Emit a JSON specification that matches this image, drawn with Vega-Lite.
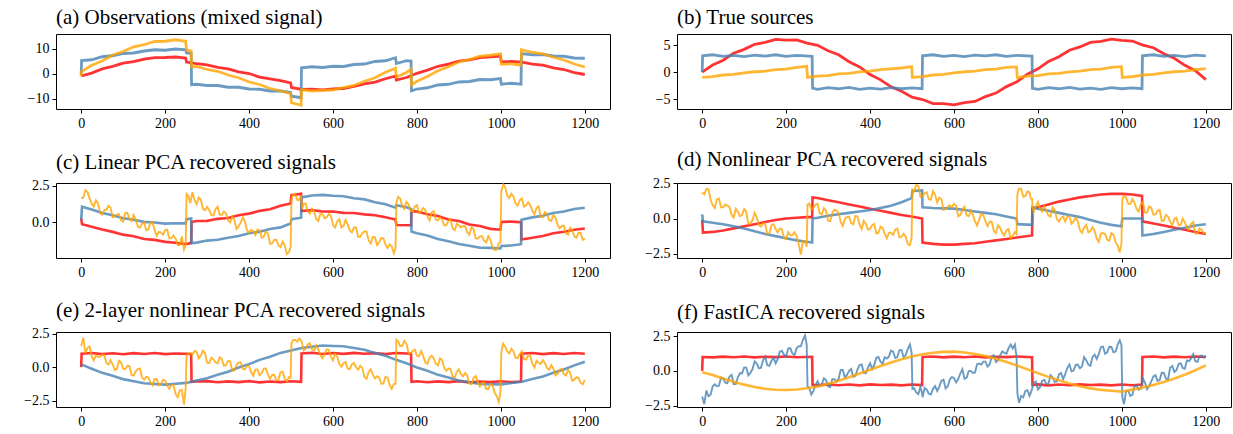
{
"$schema": "https://vega.github.io/schema/vega-lite/v6.json",
"autosize": {"type": "pad"},
"padding": {"left": 23, "top": 6, "right": 2, "bottom": 2},
"background": "white",
"columns": 2,
"spacing": {"row": 74, "column": 67},
"bounds": "flush",
"config": {
 "view": {"stroke": "black", "strokeWidth": 1},
 "axis": {"domain": false, "grid": false, "ticks": true, "tickColor": "black", "tickSize": 4, "tickWidth": 1, "labelFont": "Liberation Serif", "labelFontSize": 14, "labelColor": "black", "labelPadding": 3},
 "title": {"font": "Liberation Serif", "fontSize": 21, "fontWeight": "normal", "anchor": "start", "frame": "group", "color": "black", "offset": 6},
 "line": {"strokeWidth": 2, "opacity": 0.8, "clip": true}
},
"datasets": {
"a_r": [{"x":0,"y":-0.9},{"x":25,"y":0.27},{"x":50,"y":1.93},{"x":75,"y":2.94},{"x":100,"y":4.25},{"x":125,"y":4.83},{"x":150,"y":5.82},{"x":175,"y":6.49},{"x":200,"y":6.5},{"x":225,"y":6.69},{"x":249,"y":6.28},{"x":251,"y":4.67},{"x":275,"y":4.03},{"x":300,"y":3.55},{"x":325,"y":2.55},{"x":350,"y":1.93},{"x":375,"y":0.78},{"x":400,"y":0.1},{"x":425,"y":-1.34},{"x":450,"y":-2.06},{"x":475,"y":-2.72},{"x":499,"y":-3.62},{"x":501,"y":-5.48},{"x":525,"y":-6.26},{"x":550,"y":-6.13},{"x":575,"y":-6.41},{"x":600,"y":-6.05},{"x":625,"y":-5.9},{"x":650,"y":-5.05},{"x":675,"y":-4.02},{"x":700,"y":-3.31},{"x":725,"y":-2.01},{"x":749,"y":-0.88},{"x":751,"y":-2.52},{"x":775,"y":-1.5},{"x":800,"y":0.18},{"x":825,"y":1.44},{"x":850,"y":2.99},{"x":875,"y":3.82},{"x":900,"y":5.04},{"x":925,"y":5.59},{"x":950,"y":6.48},{"x":975,"y":6.71},{"x":999,"y":7.07},{"x":1001,"y":4.79},{"x":1025,"y":4.9},{"x":1050,"y":4.65},{"x":1075,"y":3.82},{"x":1100,"y":3.41},{"x":1125,"y":2.35},{"x":1150,"y":1.69},{"x":1175,"y":0.45},{"x":1200,"y":-0.3}],
"a_b": [{"x":0,"y":-0.5},{"x":1,"y":5.3},{"x":25,"y":5.6},{"x":50,"y":6.8},{"x":75,"y":7.2},{"x":100,"y":8.1},{"x":125,"y":8.3},{"x":150,"y":9.1},{"x":175,"y":9.6},{"x":200,"y":9.4},{"x":225,"y":9.9},{"x":249,"y":9.6},{"x":251,"y":8.3},{"x":262,"y":8.2},{"x":263,"y":-4.4},{"x":275,"y":-4.2},{"x":300,"y":-4.7},{"x":325,"y":-4.7},{"x":350,"y":-5.4},{"x":375,"y":-5.4},{"x":400,"y":-6.1},{"x":425,"y":-6.2},{"x":450,"y":-6.9},{"x":475,"y":-6.9},{"x":499,"y":-7.5},{"x":501,"y":-9.0},{"x":524,"y":-9.6},{"x":525,"y":2.4},{"x":550,"y":2.8},{"x":575,"y":2.5},{"x":600,"y":3.0},{"x":625,"y":2.9},{"x":650,"y":3.7},{"x":675,"y":3.9},{"x":700,"y":4.9},{"x":725,"y":5.2},{"x":749,"y":6.4},{"x":751,"y":4.1},{"x":775,"y":5.2},{"x":786,"y":5.1},{"x":787,"y":-6.8},{"x":800,"y":-6.1},{"x":825,"y":-5.6},{"x":850,"y":-4.5},{"x":875,"y":-4.2},{"x":900,"y":-3.3},{"x":925,"y":-3.1},{"x":950,"y":-2.3},{"x":975,"y":-2.4},{"x":999,"y":-1.9},{"x":1001,"y":-4.2},{"x":1025,"y":-3.8},{"x":1048,"y":-4.2},{"x":1049,"y":8.1},{"x":1075,"y":7.6},{"x":1100,"y":7.7},{"x":1125,"y":7.1},{"x":1150,"y":7.0},{"x":1175,"y":6.3},{"x":1200,"y":6.2}],
"a_o": [{"x":0,"y":-1.0},{"x":1,"y":0.9},{"x":25,"y":3.4},{"x":50,"y":5.1},{"x":75,"y":7.5},{"x":100,"y":8.9},{"x":125,"y":10.8},{"x":150,"y":11.6},{"x":175,"y":12.9},{"x":200,"y":13.0},{"x":225,"y":13.6},{"x":249,"y":13.0},{"x":251,"y":9.4},{"x":262,"y":9.1},{"x":263,"y":2.8},{"x":275,"y":2.9},{"x":300,"y":1.7},{"x":325,"y":1.0},{"x":350,"y":-0.5},{"x":375,"y":-1.6},{"x":400,"y":-3.3},{"x":425,"y":-4.3},{"x":450,"y":-5.9},{"x":475,"y":-6.8},{"x":499,"y":-8.0},{"x":501,"y":-11.6},{"x":524,"y":-12.6},{"x":525,"y":-6.3},{"x":550,"y":-6.9},{"x":575,"y":-6.6},{"x":600,"y":-6.5},{"x":625,"y":-5.5},{"x":650,"y":-4.7},{"x":675,"y":-3.0},{"x":700,"y":-1.6},{"x":725,"y":0.6},{"x":749,"y":2.2},{"x":751,"y":-1.3},{"x":775,"y":0.5},{"x":786,"y":1.8},{"x":787,"y":-4.4},{"x":800,"y":-3.0},{"x":825,"y":-1.1},{"x":850,"y":1.2},{"x":875,"y":2.8},{"x":900,"y":4.7},{"x":925,"y":5.7},{"x":950,"y":7.0},{"x":975,"y":7.4},{"x":999,"y":8.0},{"x":1001,"y":3.8},{"x":1025,"y":4.0},{"x":1048,"y":3.4},{"x":1049,"y":9.6},{"x":1075,"y":8.6},{"x":1100,"y":8.0},{"x":1125,"y":6.6},{"x":1150,"y":5.5},{"x":1175,"y":3.9},{"x":1200,"y":2.7}],
"b_r": [{"x":0,"y":0},{"x":25,"y":1.3},{"x":50,"y":2.2},{"x":75,"y":3.5},{"x":100,"y":4.2},{"x":125,"y":5.15},{"x":150,"y":5.5},{"x":175,"y":6.05},{"x":200,"y":5.9},{"x":225,"y":5.95},{"x":250,"y":5.35},{"x":275,"y":4.95},{"x":300,"y":3.95},{"x":325,"y":3.2},{"x":350,"y":1.9},{"x":375,"y":0.95},{"x":400,"y":-0.45},{"x":425,"y":-1.45},{"x":450,"y":-2.75},{"x":475,"y":-3.55},{"x":500,"y":-4.65},{"x":525,"y":-5.1},{"x":550,"y":-5.85},{"x":575,"y":-5.85},{"x":600,"y":-6.1},{"x":625,"y":-5.65},{"x":650,"y":-5.45},{"x":675,"y":-4.55},{"x":700,"y":-3.9},{"x":725,"y":-2.7},{"x":750,"y":-1.8},{"x":775,"y":-0.4},{"x":800,"y":0.6},{"x":825,"y":1.95},{"x":850,"y":2.85},{"x":875,"y":4.05},{"x":900,"y":4.65},{"x":925,"y":5.5},{"x":950,"y":5.7},{"x":975,"y":6.1},{"x":1000,"y":5.85},{"x":1025,"y":5.75},{"x":1050,"y":5.0},{"x":1075,"y":4.5},{"x":1100,"y":3.4},{"x":1125,"y":2.55},{"x":1150,"y":1.25},{"x":1175,"y":0.25},{"x":1200,"y":-1.4}],
"b_b": [{"x":0,"y":0},{"x":1,"y":3.0},{"x":25,"y":3.2},{"x":50,"y":2.9},{"x":75,"y":3.1},{"x":100,"y":2.85},{"x":125,"y":3.15},{"x":150,"y":2.95},{"x":175,"y":3.2},{"x":200,"y":2.9},{"x":225,"y":3.1},{"x":262,"y":2.9},{"x":263,"y":-3.0},{"x":275,"y":-3.2},{"x":300,"y":-2.9},{"x":325,"y":-3.1},{"x":350,"y":-2.85},{"x":375,"y":-3.2},{"x":400,"y":-3.0},{"x":425,"y":-3.15},{"x":450,"y":-2.9},{"x":475,"y":-3.1},{"x":500,"y":-2.95},{"x":524,"y":-3.1},{"x":525,"y":3.0},{"x":550,"y":3.2},{"x":575,"y":2.9},{"x":600,"y":3.1},{"x":625,"y":2.85},{"x":650,"y":3.15},{"x":675,"y":3.0},{"x":700,"y":3.2},{"x":725,"y":2.9},{"x":750,"y":3.1},{"x":786,"y":2.95},{"x":787,"y":-3.0},{"x":800,"y":-3.2},{"x":825,"y":-2.9},{"x":850,"y":-3.1},{"x":875,"y":-2.85},{"x":900,"y":-3.15},{"x":925,"y":-3.0},{"x":950,"y":-3.2},{"x":975,"y":-2.9},{"x":1000,"y":-3.1},{"x":1025,"y":-2.95},{"x":1048,"y":-3.1},{"x":1049,"y":3.0},{"x":1075,"y":3.2},{"x":1100,"y":2.9},{"x":1125,"y":3.1},{"x":1150,"y":2.85},{"x":1175,"y":3.15},{"x":1200,"y":3.0}],
"b_o": [{"x":0,"y":-1.0},{"x":25,"y":-0.85},{"x":50,"y":-0.55},{"x":75,"y":-0.45},{"x":100,"y":-0.15},{"x":125,"y":0.05},{"x":150,"y":0.15},{"x":175,"y":0.45},{"x":200,"y":0.55},{"x":225,"y":0.85},{"x":249,"y":1.05},{"x":251,"y":-1.0},{"x":275,"y":-0.75},{"x":300,"y":-0.65},{"x":325,"y":-0.35},{"x":350,"y":-0.25},{"x":375,"y":0.05},{"x":400,"y":0.15},{"x":425,"y":0.45},{"x":450,"y":0.6},{"x":475,"y":0.75},{"x":499,"y":1.0},{"x":501,"y":-1.0},{"x":525,"y":-0.85},{"x":550,"y":-0.55},{"x":575,"y":-0.45},{"x":600,"y":-0.15},{"x":625,"y":0.05},{"x":650,"y":0.15},{"x":675,"y":0.45},{"x":700,"y":0.55},{"x":725,"y":0.85},{"x":749,"y":0.95},{"x":751,"y":-1.05},{"x":775,"y":-0.75},{"x":800,"y":-0.65},{"x":825,"y":-0.35},{"x":850,"y":-0.25},{"x":875,"y":0.05},{"x":900,"y":0.15},{"x":925,"y":0.45},{"x":950,"y":0.55},{"x":975,"y":0.85},{"x":999,"y":1.0},{"x":1001,"y":-1.0},{"x":1025,"y":-0.85},{"x":1050,"y":-0.55},{"x":1075,"y":-0.45},{"x":1100,"y":-0.15},{"x":1125,"y":0.05},{"x":1150,"y":0.15},{"x":1175,"y":0.45},{"x":1200,"y":0.65}],
"c_r": [{"x":0,"y":0.25},{"x":2,"y":-0.15},{"x":25,"y":-0.33},{"x":50,"y":-0.52},{"x":75,"y":-0.68},{"x":100,"y":-0.87},{"x":125,"y":-0.98},{"x":150,"y":-1.17},{"x":175,"y":-1.23},{"x":200,"y":-1.37},{"x":225,"y":-1.43},{"x":249,"y":-1.52},{"x":262,"y":-1.45},{"x":263,"y":0.0},{"x":275,"y":0.07},{"x":300,"y":0.08},{"x":325,"y":0.22},{"x":350,"y":0.28},{"x":375,"y":0.47},{"x":400,"y":0.58},{"x":425,"y":0.77},{"x":450,"y":0.88},{"x":475,"y":1.12},{"x":499,"y":1.28},{"x":501,"y":1.85},{"x":524,"y":1.95},{"x":525,"y":0.75},{"x":550,"y":0.82},{"x":575,"y":0.73},{"x":600,"y":0.72},{"x":625,"y":0.63},{"x":650,"y":0.62},{"x":675,"y":0.53},{"x":700,"y":0.47},{"x":725,"y":0.33},{"x":749,"y":0.17},{"x":751,"y":-0.2},{"x":786,"y":-0.22},{"x":787,"y":0.75},{"x":800,"y":0.72},{"x":825,"y":0.53},{"x":850,"y":0.42},{"x":875,"y":0.18},{"x":900,"y":0.07},{"x":925,"y":-0.17},{"x":950,"y":-0.28},{"x":975,"y":-0.47},{"x":999,"y":-0.53},{"x":1001,"y":0.0},{"x":1025,"y":0.03},{"x":1048,"y":-0.02},{"x":1049,"y":-1.2},{"x":1075,"y":-1.08},{"x":1100,"y":-0.97},{"x":1125,"y":-0.78},{"x":1150,"y":-0.67},{"x":1175,"y":-0.53},{"x":1200,"y":-0.45}],
"c_b": [{"x":0,"y":0.15},{"x":2,"y":1.05},{"x":25,"y":0.86},{"x":50,"y":0.62},{"x":75,"y":0.47},{"x":100,"y":0.26},{"x":125,"y":0.16},{"x":150,"y":0.01},{"x":175,"y":-0.03},{"x":200,"y":-0.11},{"x":225,"y":-0.08},{"x":249,"y":-0.09},{"x":251,"y":0.2},{"x":262,"y":0.24},{"x":263,"y":-1.45},{"x":275,"y":-1.42},{"x":300,"y":-1.28},{"x":325,"y":-1.22},{"x":350,"y":-1.08},{"x":375,"y":-0.97},{"x":400,"y":-0.78},{"x":425,"y":-0.67},{"x":450,"y":-0.48},{"x":475,"y":-0.37},{"x":499,"y":-0.1},{"x":501,"y":0.2},{"x":524,"y":0.3},{"x":525,"y":1.7},{"x":550,"y":1.83},{"x":575,"y":1.87},{"x":600,"y":1.81},{"x":625,"y":1.78},{"x":650,"y":1.64},{"x":675,"y":1.56},{"x":700,"y":1.36},{"x":725,"y":1.22},{"x":749,"y":0.99},{"x":751,"y":1.15},{"x":775,"y":1.02},{"x":786,"y":0.9},{"x":787,"y":-0.65},{"x":800,"y":-0.77},{"x":825,"y":-0.93},{"x":850,"y":-1.17},{"x":875,"y":-1.33},{"x":900,"y":-1.52},{"x":925,"y":-1.63},{"x":950,"y":-1.77},{"x":975,"y":-1.78},{"x":999,"y":-1.82},{"x":1001,"y":-1.65},{"x":1025,"y":-1.62},{"x":1048,"y":-1.53},{"x":1049,"y":0.15},{"x":1075,"y":0.32},{"x":1100,"y":0.43},{"x":1125,"y":0.62},{"x":1150,"y":0.73},{"x":1175,"y":0.9},{"x":1200,"y":0.98}],
"c_o": [{"x":0,"y":1.64},{"x":10,"y":2.2},{"x":20,"y":1.63},{"x":30,"y":1.06},{"x":40,"y":1.3},{"x":50,"y":0.52},{"x":60,"y":0.85},{"x":70,"y":0.99},{"x":80,"y":0.39},{"x":90,"y":0.54},{"x":100,"y":0.03},{"x":110,"y":0.63},{"x":120,"y":0.06},{"x":130,"y":0.17},{"x":140,"y":-0.4},{"x":150,"y":-0.02},{"x":160,"y":-0.5},{"x":170,"y":-0.03},{"x":180,"y":-0.96},{"x":190,"y":-0.71},{"x":200,"y":-0.56},{"x":210,"y":-1.13},{"x":220,"y":-0.93},{"x":230,"y":-1.59},{"x":240,"y":-0.99},{"x":245,"y":-1.9},{"x":249,"y":-1.6},{"x":251,"y":1.93},{"x":260,"y":1.3},{"x":265,"y":2.05},{"x":270,"y":1.51},{"x":280,"y":1.69},{"x":290,"y":0.91},{"x":300,"y":1.04},{"x":310,"y":0.48},{"x":320,"y":0.88},{"x":330,"y":0.5},{"x":340,"y":0.73},{"x":350,"y":0.13},{"x":360,"y":0.39},{"x":370,"y":-0.48},{"x":380,"y":-0.04},{"x":390,"y":0.04},{"x":400,"y":-0.73},{"x":410,"y":-0.61},{"x":420,"y":-0.53},{"x":430,"y":-1.08},{"x":440,"y":-0.64},{"x":450,"y":-1.51},{"x":460,"y":-1.24},{"x":470,"y":-1.62},{"x":480,"y":-1.35},{"x":490,"y":-2.2},{"x":499,"y":-1.72},{"x":501,"y":1.6},{"x":510,"y":1.95},{"x":518,"y":1.5},{"x":524,"y":1.75},{"x":526,"y":0.9},{"x":530,"y":1.26},{"x":540,"y":0.72},{"x":550,"y":0.92},{"x":560,"y":0.2},{"x":570,"y":0.58},{"x":580,"y":0.26},{"x":590,"y":0.55},{"x":600,"y":-0.21},{"x":610,"y":0.03},{"x":620,"y":-0.37},{"x":630,"y":0.14},{"x":640,"y":-0.58},{"x":650,"y":-0.38},{"x":660,"y":-1.01},{"x":670,"y":-0.76},{"x":680,"y":-0.67},{"x":690,"y":-1.47},{"x":700,"y":-1.05},{"x":710,"y":-1.4},{"x":720,"y":-1.12},{"x":730,"y":-1.79},{"x":740,"y":-1.69},{"x":745,"y":-2.15},{"x":749,"y":-1.8},{"x":751,"y":1.32},{"x":760,"y":1.62},{"x":770,"y":0.9},{"x":780,"y":1.23},{"x":790,"y":0.74},{"x":800,"y":1.16},{"x":810,"y":0.72},{"x":820,"y":0.82},{"x":830,"y":0.11},{"x":840,"y":0.75},{"x":850,"y":0.13},{"x":860,"y":0.19},{"x":870,"y":-0.22},{"x":880,"y":0.21},{"x":890,"y":-0.56},{"x":900,"y":-0.22},{"x":910,"y":-0.27},{"x":920,"y":-0.7},{"x":930,"y":-0.34},{"x":940,"y":-1.13},{"x":950,"y":-0.99},{"x":960,"y":-1.29},{"x":970,"y":-0.97},{"x":980,"y":-1.72},{"x":990,"y":-1.9},{"x":999,"y":-1.42},{"x":1001,"y":2.1},{"x":1006,"y":2.6},{"x":1010,"y":2.41},{"x":1020,"y":1.66},{"x":1030,"y":1.75},{"x":1040,"y":1.13},{"x":1050,"y":1.63},{"x":1060,"y":1.15},{"x":1070,"y":1.16},{"x":1080,"y":0.54},{"x":1090,"y":1.08},{"x":1100,"y":0.33},{"x":1110,"y":0.57},{"x":1120,"y":0.08},{"x":1130,"y":0.32},{"x":1140,"y":-0.44},{"x":1150,"y":-0.25},{"x":1160,"y":-0.87},{"x":1170,"y":-0.55},{"x":1180,"y":-1.08},{"x":1190,"y":-0.75},{"x":1200,"y":-1.15},
{"x":5,"y":1.68},{"x":15,"y":2.08},{"x":25,"y":1.27},{"x":35,"y":1.5},{"x":45,"y":0.63},{"x":55,"y":0.81},{"x":65,"y":1.12},{"x":75,"y":0.33},{"x":85,"y":0.51},{"x":95,"y":0.13},{"x":105,"y":0.61},{"x":115,"y":0.23},{"x":125,"y":0.48},{"x":135,"y":-0.32},{"x":145,"y":-0.13},{"x":155,"y":-0.58},{"x":165,"y":-0.03},{"x":175,"y":-0.54},{"x":185,"y":-0.68},{"x":195,"y":-0.88},{"x":205,"y":-0.53},{"x":215,"y":-1.11},{"x":225,"y":-1.14},{"x":235,"y":-1.57},{"x":255,"y":1.82},{"x":275,"y":1.24},{"x":285,"y":1.54},{"x":295,"y":0.82},{"x":305,"y":0.84},{"x":315,"y":0.44},{"x":325,"y":1.05},{"x":335,"y":0.5},{"x":345,"y":0.59},{"x":355,"y":-0.02},{"x":365,"y":0.15},{"x":375,"y":-0.3},{"x":385,"y":0.32},{"x":395,"y":-0.55},{"x":405,"y":-0.55},{"x":415,"y":-0.89},{"x":425,"y":-0.57},{"x":435,"y":-1.02},{"x":445,"y":-0.8},{"x":455,"y":-1.46},{"x":465,"y":-1.23},{"x":475,"y":-1.73},{"x":485,"y":-1.62},{"x":495,"y":-2.08},{"x":505,"y":1.9},{"x":514,"y":1.53},{"x":535,"y":1.27},{"x":545,"y":0.58},{"x":555,"y":0.76},{"x":565,"y":0.07},{"x":575,"y":0.54},{"x":585,"y":0.33},{"x":595,"y":0.41},{"x":605,"y":-0.37},{"x":615,"y":0.19},{"x":625,"y":-0.28},{"x":635,"y":-0.18},{"x":645,"y":-0.72},{"x":655,"y":-0.38},{"x":665,"y":-1.01},{"x":675,"y":-0.64},{"x":685,"y":-1.27},{"x":695,"y":-1.02},{"x":705,"y":-1.59},{"x":715,"y":-1.1},{"x":725,"y":-1.54},{"x":735,"y":-1.54},{"x":755,"y":1.75},{"x":765,"y":1.1},{"x":775,"y":1.39},{"x":785,"y":0.75},{"x":795,"y":1.07},{"x":805,"y":0.62},{"x":815,"y":0.97},{"x":825,"y":0.39},{"x":835,"y":0.67},{"x":845,"y":0.16},{"x":855,"y":0.32},{"x":865,"y":-0.22},{"x":875,"y":0.08},{"x":885,"y":-0.42},{"x":895,"y":-0.11},{"x":905,"y":-0.37},{"x":915,"y":-0.29},{"x":925,"y":-0.88},{"x":935,"y":-0.5},{"x":945,"y":-1.14},{"x":955,"y":-0.98},{"x":965,"y":-1.41},{"x":975,"y":-1.23},{"x":985,"y":-1.93},{"x":995,"y":-1.46},{"x":1015,"y":1.84},{"x":1025,"y":1.95},{"x":1035,"y":1.28},{"x":1045,"y":1.5},{"x":1055,"y":1.07},{"x":1065,"y":1.36},{"x":1075,"y":0.77},{"x":1085,"y":0.97},{"x":1095,"y":0.35},{"x":1105,"y":0.69},{"x":1115,"y":0.13},{"x":1125,"y":0.48},{"x":1135,"y":-0.18},{"x":1145,"y":-0.27},{"x":1155,"y":-0.8},{"x":1165,"y":-0.39},{"x":1175,"y":-0.98},{"x":1185,"y":-0.72},{"x":1195,"y":-1.23}],
"d_r": [{"x":0,"y":-0.1},{"x":2,"y":-1.0},{"x":25,"y":-0.95},{"x":50,"y":-0.85},{"x":75,"y":-0.7},{"x":100,"y":-0.55},{"x":125,"y":-0.4},{"x":150,"y":-0.25},{"x":175,"y":-0.1},{"x":200,"y":0.0},{"x":225,"y":0.05},{"x":249,"y":0.1},{"x":262,"y":0.1},{"x":263,"y":1.5},{"x":275,"y":1.45},{"x":300,"y":1.3},{"x":325,"y":1.15},{"x":350,"y":1.0},{"x":375,"y":0.85},{"x":400,"y":0.7},{"x":425,"y":0.55},{"x":450,"y":0.4},{"x":475,"y":0.25},{"x":499,"y":0.15},{"x":524,"y":0.0},{"x":525,"y":-1.7},{"x":550,"y":-1.8},{"x":575,"y":-1.85},{"x":600,"y":-1.85},{"x":625,"y":-1.8},{"x":650,"y":-1.75},{"x":675,"y":-1.65},{"x":700,"y":-1.55},{"x":725,"y":-1.45},{"x":750,"y":-1.35},{"x":786,"y":-1.2},{"x":787,"y":0.7},{"x":800,"y":0.8},{"x":825,"y":1.0},{"x":850,"y":1.2},{"x":875,"y":1.35},{"x":900,"y":1.5},{"x":925,"y":1.6},{"x":950,"y":1.7},{"x":975,"y":1.75},{"x":1000,"y":1.75},{"x":1025,"y":1.7},{"x":1048,"y":1.6},{"x":1049,"y":-0.2},{"x":1075,"y":-0.35},{"x":1100,"y":-0.5},{"x":1125,"y":-0.65},{"x":1150,"y":-0.8},{"x":1175,"y":-0.95},{"x":1200,"y":-1.1}],
"d_b": [{"x":0,"y":0.3},{"x":2,"y":-0.2},{"x":25,"y":-0.3},{"x":50,"y":-0.4},{"x":75,"y":-0.55},{"x":100,"y":-0.7},{"x":125,"y":-0.9},{"x":150,"y":-1.1},{"x":175,"y":-1.25},{"x":200,"y":-1.4},{"x":225,"y":-1.55},{"x":249,"y":-1.65},{"x":262,"y":-1.7},{"x":263,"y":0.0},{"x":275,"y":0.05},{"x":300,"y":0.2},{"x":325,"y":0.3},{"x":350,"y":0.4},{"x":375,"y":0.5},{"x":400,"y":0.6},{"x":425,"y":0.75},{"x":450,"y":0.9},{"x":475,"y":1.15},{"x":499,"y":1.45},{"x":501,"y":1.95},{"x":524,"y":2.0},{"x":525,"y":0.8},{"x":550,"y":0.75},{"x":575,"y":0.72},{"x":600,"y":0.7},{"x":625,"y":0.6},{"x":650,"y":0.5},{"x":675,"y":0.4},{"x":700,"y":0.3},{"x":725,"y":0.15},{"x":749,"y":0.0},{"x":751,"y":-0.4},{"x":786,"y":-0.45},{"x":787,"y":0.8},{"x":800,"y":0.7},{"x":825,"y":0.55},{"x":850,"y":0.4},{"x":875,"y":0.25},{"x":900,"y":0.1},{"x":925,"y":-0.1},{"x":950,"y":-0.3},{"x":975,"y":-0.45},{"x":999,"y":-0.55},{"x":1001,"y":0.0},{"x":1025,"y":0.0},{"x":1048,"y":0.0},{"x":1049,"y":-1.2},{"x":1075,"y":-1.1},{"x":1100,"y":-0.95},{"x":1125,"y":-0.8},{"x":1150,"y":-0.65},{"x":1175,"y":-0.5},{"x":1200,"y":-0.4}],
"d_o": [{"x":0,"y":1.85},{"x":10,"y":2.1},{"x":20,"y":1.34},{"x":30,"y":0.75},{"x":40,"y":1.42},{"x":50,"y":0.79},{"x":60,"y":0.91},{"x":70,"y":0.27},{"x":80,"y":0.69},{"x":90,"y":0.16},{"x":100,"y":0.68},{"x":110,"y":-0.36},{"x":120,"y":-0.09},{"x":130,"y":0.08},{"x":140,"y":-0.56},{"x":150,"y":-0.34},{"x":160,"y":-1.07},{"x":170,"y":-0.4},{"x":180,"y":-0.99},{"x":190,"y":-0.77},{"x":200,"y":-1.45},{"x":210,"y":-1.18},{"x":220,"y":-0.97},{"x":230,"y":-1.8},{"x":235,"y":-2.55},{"x":240,"y":-1.63},{"x":249,"y":-2.0},{"x":251,"y":1.0},{"x":260,"y":0.67},{"x":270,"y":0.97},{"x":280,"y":0.38},{"x":290,"y":0.74},{"x":300,"y":-0.15},{"x":310,"y":0.4},{"x":320,"y":0.56},{"x":330,"y":-0.23},{"x":340,"y":-0.03},{"x":350,"y":0.13},{"x":360,"y":-0.41},{"x":370,"y":0.15},{"x":380,"y":-0.75},{"x":390,"y":-0.39},{"x":400,"y":-0.73},{"x":410,"y":-0.38},{"x":420,"y":-1.02},{"x":430,"y":-0.66},{"x":440,"y":-1.4},{"x":450,"y":-1.0},{"x":460,"y":-0.79},{"x":470,"y":-1.33},{"x":480,"y":-1.08},{"x":490,"y":-1.82},{"x":499,"y":-1.35},{"x":501,"y":2.05},{"x":510,"y":2.38},{"x":520,"y":1.54},{"x":530,"y":1.8},{"x":540,"y":1.37},{"x":550,"y":1.93},{"x":560,"y":1.14},{"x":570,"y":1.36},{"x":580,"y":0.67},{"x":590,"y":0.93},{"x":600,"y":1.04},{"x":610,"y":0.16},{"x":620,"y":0.62},{"x":630,"y":0.23},{"x":640,"y":0.55},{"x":650,"y":-0.19},{"x":660,"y":-0.08},{"x":670,"y":0.24},{"x":680,"y":-0.55},{"x":690,"y":-0.24},{"x":700,"y":-1.02},{"x":710,"y":-0.66},{"x":720,"y":-1.2},{"x":730,"y":-0.74},{"x":740,"y":-1.22},{"x":749,"y":-1.1},{"x":751,"y":1.75},{"x":760,"y":2.1},{"x":770,"y":1.6},{"x":780,"y":1.85},{"x":786,"y":1.4},{"x":787,"y":0.9},{"x":790,"y":0.45},{"x":800,"y":1.17},{"x":810,"y":0.49},{"x":820,"y":0.56},{"x":830,"y":0.13},{"x":840,"y":0.61},{"x":850,"y":-0.22},{"x":860,"y":0.15},{"x":870,"y":0.12},{"x":880,"y":-0.36},{"x":890,"y":0.06},{"x":900,"y":-0.82},{"x":910,"y":-0.65},{"x":920,"y":-0.98},{"x":930,"y":-0.61},{"x":940,"y":-1.43},{"x":950,"y":-1.06},{"x":960,"y":-1.09},{"x":970,"y":-1.57},{"x":980,"y":-1.15},{"x":990,"y":-1.93},{"x":995,"y":-2.4},{"x":999,"y":-1.75},{"x":1001,"y":1.4},{"x":1010,"y":1.5},{"x":1020,"y":1.03},{"x":1030,"y":1.11},{"x":1040,"y":0.5},{"x":1050,"y":1.18},{"x":1060,"y":0.42},{"x":1070,"y":0.75},{"x":1080,"y":0.29},{"x":1090,"y":0.62},{"x":1100,"y":-0.15},{"x":1110,"y":0.14},{"x":1120,"y":-0.48},{"x":1130,"y":0.06},{"x":1140,"y":-0.46},{"x":1150,"y":-0.27},{"x":1160,"y":-0.79},{"x":1170,"y":-0.25},{"x":1180,"y":-1.07},{"x":1190,"y":-0.79},{"x":1200,"y":-1.0},
{"x":5,"y":1.71},{"x":15,"y":2.08},{"x":25,"y":0.96},{"x":35,"y":1.36},{"x":45,"y":0.79},{"x":55,"y":0.99},{"x":65,"y":0.82},{"x":75,"y":0.07},{"x":85,"y":0.48},{"x":95,"y":0.24},{"x":105,"y":0.48},{"x":115,"y":-0.37},{"x":125,"y":0.4},{"x":135,"y":-0.47},{"x":145,"y":-0.36},{"x":155,"y":-1.07},{"x":165,"y":-0.47},{"x":175,"y":-0.75},{"x":185,"y":-0.7},{"x":195,"y":-1.38},{"x":205,"y":-0.96},{"x":215,"y":-1.17},{"x":225,"y":-1.25},{"x":245,"y":-1.62},{"x":255,"y":1.07},{"x":265,"y":0.77},{"x":275,"y":1.04},{"x":285,"y":0.29},{"x":295,"y":0.57},{"x":305,"y":-0.19},{"x":315,"y":0.62},{"x":325,"y":0.4},{"x":335,"y":-0.54},{"x":345,"y":0.1},{"x":355,"y":-0.32},{"x":365,"y":0.19},{"x":375,"y":-0.44},{"x":385,"y":-0.16},{"x":395,"y":-0.79},{"x":405,"y":-0.47},{"x":415,"y":-1.06},{"x":425,"y":-0.57},{"x":435,"y":-1.08},{"x":445,"y":-1.02},{"x":455,"y":-1.17},{"x":465,"y":-0.7},{"x":475,"y":-1.3},{"x":485,"y":-1.31},{"x":495,"y":-1.89},{"x":505,"y":1.95},{"x":515,"y":2.32},{"x":525,"y":1.58},{"x":535,"y":1.86},{"x":545,"y":1.33},{"x":555,"y":1.68},{"x":565,"y":1.48},{"x":575,"y":0.61},{"x":585,"y":0.85},{"x":595,"y":0.81},{"x":605,"y":0.92},{"x":615,"y":0.25},{"x":625,"y":0.84},{"x":635,"y":0.16},{"x":645,"y":0.27},{"x":655,"y":-0.5},{"x":665,"y":0.35},{"x":675,"y":-0.21},{"x":685,"y":-0.22},{"x":695,"y":-0.9},{"x":705,"y":-0.48},{"x":715,"y":-1.02},{"x":725,"y":-0.83},{"x":735,"y":-1.39},{"x":745,"y":-0.96},{"x":755,"y":2.13},{"x":765,"y":1.55},{"x":775,"y":1.93},{"x":783,"y":1.42},{"x":795,"y":0.86},{"x":805,"y":0.65},{"x":815,"y":0.85},{"x":825,"y":0.21},{"x":835,"y":0.78},{"x":845,"y":-0.03},{"x":855,"y":0.05},{"x":865,"y":-0.22},{"x":875,"y":0.15},{"x":885,"y":-0.2},{"x":895,"y":-0.2},{"x":905,"y":-1.01},{"x":915,"y":-0.46},{"x":925,"y":-0.89},{"x":935,"y":-0.88},{"x":945,"y":-1.66},{"x":955,"y":-1.03},{"x":965,"y":-1.51},{"x":975,"y":-1.04},{"x":985,"y":-1.68},{"x":1005,"y":1.6},{"x":1015,"y":1.04},{"x":1025,"y":1.39},{"x":1035,"y":0.67},{"x":1045,"y":1.02},{"x":1055,"y":0.44},{"x":1065,"y":0.86},{"x":1075,"y":0.29},{"x":1085,"y":0.55},{"x":1095,"y":-0.17},{"x":1105,"y":0.26},{"x":1115,"y":-0.22},{"x":1125,"y":-0.03},{"x":1135,"y":-0.47},{"x":1145,"y":-0.01},{"x":1155,"y":-0.62},{"x":1165,"y":-0.38},{"x":1175,"y":-1.07},{"x":1185,"y":-0.7},{"x":1195,"y":-1.04}],
"e_r": [{"x":0,"y":0.0},{"x":1,"y":1.0},{"x":25,"y":1.05},{"x":50,"y":0.97},{"x":75,"y":1.03},{"x":100,"y":0.96},{"x":125,"y":1.04},{"x":150,"y":0.98},{"x":175,"y":1.05},{"x":200,"y":0.97},{"x":225,"y":1.02},{"x":262,"y":0.98},{"x":263,"y":-1.1},{"x":275,"y":-1.08},{"x":300,"y":-1.05},{"x":325,"y":-1.13},{"x":350,"y":-1.07},{"x":375,"y":-1.12},{"x":400,"y":-1.05},{"x":425,"y":-1.14},{"x":450,"y":-1.08},{"x":475,"y":-1.12},{"x":500,"y":-1.06},{"x":524,"y":-1.1},{"x":525,"y":1.02},{"x":550,"y":1.07},{"x":575,"y":0.98},{"x":600,"y":1.05},{"x":625,"y":0.99},{"x":650,"y":1.06},{"x":675,"y":1.0},{"x":700,"y":1.04},{"x":725,"y":0.97},{"x":750,"y":1.05},{"x":786,"y":1.0},{"x":787,"y":-1.1},{"x":800,"y":-1.06},{"x":825,"y":-1.13},{"x":850,"y":-1.07},{"x":875,"y":-1.12},{"x":900,"y":-1.05},{"x":925,"y":-1.14},{"x":950,"y":-1.08},{"x":975,"y":-1.12},{"x":1000,"y":-1.06},{"x":1025,"y":-1.12},{"x":1048,"y":-1.08},{"x":1049,"y":1.0},{"x":1075,"y":1.05},{"x":1100,"y":0.97},{"x":1125,"y":1.04},{"x":1150,"y":0.98},{"x":1175,"y":1.05},{"x":1200,"y":1.0}],
"e_b": [{"x":0,"y":0.2},{"x":25,"y":-0.12},{"x":50,"y":-0.43},{"x":75,"y":-0.65},{"x":100,"y":-0.9},{"x":125,"y":-1.05},{"x":150,"y":-1.21},{"x":175,"y":-1.26},{"x":200,"y":-1.31},{"x":225,"y":-1.24},{"x":250,"y":-1.18},{"x":275,"y":-1.0},{"x":300,"y":-0.84},{"x":325,"y":-0.58},{"x":350,"y":-0.35},{"x":375,"y":-0.03},{"x":400,"y":0.22},{"x":425,"y":0.54},{"x":450,"y":0.78},{"x":475,"y":1.06},{"x":500,"y":1.24},{"x":525,"y":1.43},{"x":550,"y":1.52},{"x":575,"y":1.61},{"x":600,"y":1.58},{"x":625,"y":1.56},{"x":650,"y":1.42},{"x":675,"y":1.29},{"x":700,"y":1.05},{"x":725,"y":0.84},{"x":750,"y":0.54},{"x":775,"y":0.29},{"x":800,"y":-0.03},{"x":825,"y":-0.28},{"x":850,"y":-0.58},{"x":875,"y":-0.78},{"x":900,"y":-1.01},{"x":925,"y":-1.13},{"x":950,"y":-1.26},{"x":975,"y":-1.28},{"x":1000,"y":-1.29},{"x":1025,"y":-1.19},{"x":1050,"y":-1.1},{"x":1075,"y":-0.89},{"x":1100,"y":-0.71},{"x":1125,"y":-0.43},{"x":1150,"y":-0.18},{"x":1175,"y":0.13},{"x":1200,"y":0.4}],
"e_o": [{"x":0,"y":1.55},{"x":5,"y":2.2},{"x":10,"y":1.02},{"x":20,"y":1.54},{"x":30,"y":0.5},{"x":40,"y":0.77},{"x":50,"y":0.94},{"x":60,"y":0.31},{"x":70,"y":0.52},{"x":80,"y":-0.21},{"x":90,"y":0.46},{"x":100,"y":-0.12},{"x":110,"y":0.09},{"x":120,"y":-0.59},{"x":130,"y":-0.32},{"x":140,"y":-0.11},{"x":150,"y":-0.94},{"x":160,"y":-0.77},{"x":170,"y":-1.35},{"x":180,"y":-0.89},{"x":190,"y":-1.27},{"x":200,"y":-1.0},{"x":210,"y":-1.63},{"x":220,"y":-1.32},{"x":230,"y":-2.25},{"x":240,"y":-1.73},{"x":245,"y":-2.8},{"x":249,"y":-1.6},{"x":251,"y":0.8},{"x":260,"y":1.02},{"x":270,"y":1.19},{"x":280,"y":0.65},{"x":290,"y":1.22},{"x":300,"y":0.33},{"x":310,"y":0.7},{"x":320,"y":0.36},{"x":330,"y":0.73},{"x":340,"y":0.1},{"x":350,"y":0.46},{"x":360,"y":-0.27},{"x":370,"y":0.14},{"x":380,"y":0.36},{"x":390,"y":-0.18},{"x":400,"y":0.09},{"x":410,"y":-0.65},{"x":420,"y":-0.18},{"x":430,"y":-0.47},{"x":440,"y":-0.1},{"x":450,"y":-0.88},{"x":460,"y":-0.57},{"x":470,"y":-0.95},{"x":480,"y":-0.34},{"x":490,"y":-1.07},{"x":499,"y":-0.8},{"x":501,"y":1.75},{"x":510,"y":2.02},{"x":520,"y":2.13},{"x":530,"y":1.24},{"x":540,"y":1.7},{"x":550,"y":1.31},{"x":560,"y":1.62},{"x":570,"y":0.87},{"x":580,"y":0.98},{"x":590,"y":1.29},{"x":600,"y":0.5},{"x":610,"y":0.81},{"x":620,"y":0.02},{"x":630,"y":0.38},{"x":640,"y":-0.16},{"x":650,"y":0.3},{"x":660,"y":-0.19},{"x":670,"y":-0.08},{"x":680,"y":-0.87},{"x":690,"y":-0.16},{"x":700,"y":-0.85},{"x":710,"y":-0.79},{"x":720,"y":-1.23},{"x":730,"y":-0.78},{"x":740,"y":-1.62},{"x":749,"y":-1.25},{"x":751,"y":2.05},{"x":760,"y":1.56},{"x":770,"y":1.96},{"x":780,"y":1.06},{"x":790,"y":1.2},{"x":800,"y":0.85},{"x":810,"y":1.2},{"x":820,"y":0.34},{"x":830,"y":0.69},{"x":840,"y":0.64},{"x":850,"y":0.13},{"x":860,"y":0.53},{"x":870,"y":-0.27},{"x":880,"y":-0.13},{"x":890,"y":-0.78},{"x":900,"y":-0.18},{"x":910,"y":-0.69},{"x":920,"y":-0.64},{"x":930,"y":-1.29},{"x":940,"y":-0.65},{"x":950,"y":-1.45},{"x":960,"y":-1.15},{"x":970,"y":-1.66},{"x":980,"y":-1.36},{"x":990,"y":-2.16},{"x":995,"y":-2.6},{"x":999,"y":-1.9},{"x":1001,"y":1.0},{"x":1005,"y":1.75},{"x":1010,"y":1.54},{"x":1020,"y":1.01},{"x":1030,"y":1.19},{"x":1040,"y":0.66},{"x":1050,"y":1.18},{"x":1060,"y":0.56},{"x":1070,"y":0.83},{"x":1080,"y":-0.04},{"x":1090,"y":0.33},{"x":1100,"y":0.51},{"x":1110,"y":-0.07},{"x":1120,"y":0.15},{"x":1130,"y":-0.62},{"x":1140,"y":-0.2},{"x":1150,"y":-0.52},{"x":1160,"y":-0.2},{"x":1170,"y":-1.02},{"x":1180,"y":-0.75},{"x":1190,"y":-1.17},{"x":1200,"y":-0.95},
{"x":15,"y":1.42},{"x":25,"y":0.84},{"x":35,"y":0.87},{"x":45,"y":0.77},{"x":55,"y":0.9},{"x":65,"y":0.19},{"x":75,"y":0.21},{"x":85,"y":-0.14},{"x":95,"y":0.35},{"x":105,"y":-0.16},{"x":115,"y":0.07},{"x":125,"y":-0.64},{"x":135,"y":-0.13},{"x":145,"y":-0.76},{"x":155,"y":-0.72},{"x":165,"y":-1.15},{"x":175,"y":-0.89},{"x":185,"y":-1.35},{"x":195,"y":-0.96},{"x":205,"y":-1.37},{"x":215,"y":-1.34},{"x":225,"y":-2.02},{"x":235,"y":-1.72},{"x":255,"y":1.05},{"x":265,"y":0.93},{"x":275,"y":1.15},{"x":285,"y":0.85},{"x":295,"y":1.05},{"x":305,"y":0.29},{"x":315,"y":0.58},{"x":325,"y":0.28},{"x":335,"y":0.6},{"x":345,"y":0.14},{"x":355,"y":0.42},{"x":365,"y":-0.25},{"x":375,"y":0.34},{"x":385,"y":-0.14},{"x":395,"y":0.09},{"x":405,"y":-0.37},{"x":415,"y":-0.19},{"x":425,"y":-0.6},{"x":435,"y":-0.11},{"x":445,"y":-0.54},{"x":455,"y":-0.59},{"x":465,"y":-0.99},{"x":475,"y":-0.38},{"x":485,"y":-0.85},{"x":495,"y":-0.76},{"x":505,"y":2.03},{"x":515,"y":1.9},{"x":525,"y":1.92},{"x":535,"y":1.38},{"x":545,"y":1.78},{"x":555,"y":1.24},{"x":565,"y":1.3},{"x":575,"y":0.66},{"x":585,"y":1.32},{"x":595,"y":0.76},{"x":605,"y":0.98},{"x":615,"y":0.24},{"x":625,"y":0.29},{"x":635,"y":-0.12},{"x":645,"y":0.21},{"x":655,"y":-0.03},{"x":665,"y":0.09},{"x":675,"y":-0.75},{"x":685,"y":-0.34},{"x":695,"y":-0.56},{"x":705,"y":-0.68},{"x":715,"y":-1.24},{"x":725,"y":-0.74},{"x":735,"y":-1.34},{"x":745,"y":-1.26},{"x":755,"y":1.95},{"x":765,"y":1.58},{"x":775,"y":1.74},{"x":785,"y":1.04},{"x":795,"y":1.3},{"x":805,"y":0.8},{"x":815,"y":0.82},{"x":825,"y":0.25},{"x":835,"y":0.85},{"x":845,"y":0.25},{"x":855,"y":0.65},{"x":865,"y":-0.05},{"x":875,"y":-0.11},{"x":885,"y":-0.69},{"x":895,"y":-0.34},{"x":905,"y":-0.53},{"x":915,"y":-0.44},{"x":925,"y":-1.24},{"x":935,"y":-0.79},{"x":945,"y":-1.1},{"x":955,"y":-1.16},{"x":965,"y":-1.64},{"x":975,"y":-1.24},{"x":985,"y":-1.9},{"x":1015,"y":1.19},{"x":1025,"y":1.37},{"x":1035,"y":0.7},{"x":1045,"y":0.97},{"x":1055,"y":0.6},{"x":1065,"y":0.88},{"x":1075,"y":0.26},{"x":1085,"y":0.47},{"x":1095,"y":0.24},{"x":1105,"y":0.31},{"x":1115,"y":-0.19},{"x":1125,"y":-0.1},{"x":1135,"y":-0.5},{"x":1145,"y":-0.13},{"x":1155,"y":-0.63},{"x":1165,"y":-0.43},{"x":1175,"y":-0.94},{"x":1185,"y":-0.82},{"x":1195,"y":-1.29}],
"f_r": [{"x":0,"y":0},{"x":1,"y":1.0},{"x":25,"y":0.97},{"x":50,"y":1.03},{"x":75,"y":0.98},{"x":100,"y":1.04},{"x":125,"y":0.97},{"x":150,"y":1.02},{"x":175,"y":0.99},{"x":200,"y":1.04},{"x":225,"y":0.98},{"x":262,"y":1.02},{"x":263,"y":-1.0},{"x":275,"y":-1.04},{"x":300,"y":-0.97},{"x":325,"y":-1.03},{"x":350,"y":-0.98},{"x":375,"y":-1.04},{"x":400,"y":-0.97},{"x":425,"y":-1.02},{"x":450,"y":-0.99},{"x":475,"y":-1.04},{"x":500,"y":-0.98},{"x":524,"y":-1.02},{"x":525,"y":1.0},{"x":550,"y":1.04},{"x":575,"y":0.97},{"x":600,"y":1.03},{"x":625,"y":0.98},{"x":650,"y":1.04},{"x":675,"y":0.97},{"x":700,"y":1.02},{"x":725,"y":0.99},{"x":750,"y":1.04},{"x":786,"y":0.98},{"x":787,"y":-1.02},{"x":800,"y":-0.97},{"x":825,"y":-1.04},{"x":850,"y":-0.98},{"x":875,"y":-1.03},{"x":900,"y":-0.97},{"x":925,"y":-1.02},{"x":950,"y":-0.99},{"x":975,"y":-1.04},{"x":1000,"y":-0.98},{"x":1025,"y":-1.03},{"x":1048,"y":-0.99},{"x":1049,"y":1.0},{"x":1075,"y":1.04},{"x":1100,"y":0.97},{"x":1125,"y":1.03},{"x":1150,"y":0.98},{"x":1175,"y":1.04},{"x":1200,"y":1.0}],
"f_b": [{"x":0,"y":-1.85},{"x":5,"y":-2.4},{"x":10,"y":-1.41},{"x":20,"y":-1.71},{"x":30,"y":-0.97},{"x":40,"y":-1.07},{"x":50,"y":-0.53},{"x":60,"y":-0.88},{"x":70,"y":-0.29},{"x":80,"y":-0.94},{"x":90,"y":-0.15},{"x":100,"y":0.25},{"x":110,"y":-0.31},{"x":120,"y":0.13},{"x":130,"y":0.53},{"x":140,"y":0.22},{"x":150,"y":1.02},{"x":160,"y":0.36},{"x":170,"y":0.96},{"x":180,"y":0.85},{"x":190,"y":1.45},{"x":200,"y":1.04},{"x":210,"y":1.64},{"x":220,"y":1.13},{"x":230,"y":1.78},{"x":240,"y":2.22},{"x":245,"y":2.55},{"x":249,"y":1.9},{"x":251,"y":-1.15},{"x":260,"y":-1.69},{"x":270,"y":-1.02},{"x":280,"y":-1.1},{"x":290,"y":-0.53},{"x":300,"y":-1.11},{"x":310,"y":-0.59},{"x":320,"y":-0.76},{"x":330,"y":0.06},{"x":340,"y":-0.47},{"x":350,"y":0.0},{"x":360,"y":-0.43},{"x":370,"y":0.09},{"x":380,"y":0.46},{"x":390,"y":-0.17},{"x":400,"y":0.55},{"x":410,"y":0.42},{"x":420,"y":1.0},{"x":430,"y":0.52},{"x":440,"y":0.89},{"x":450,"y":1.46},{"x":460,"y":0.93},{"x":470,"y":1.5},{"x":480,"y":0.97},{"x":490,"y":1.59},{"x":495,"y":1.9},{"x":499,"y":1.3},{"x":501,"y":-1.3},{"x":510,"y":-1.55},{"x":520,"y":-1.15},{"x":524,"y":-1.6},{"x":525,"y":-1.9},{"x":530,"y":-1.23},{"x":540,"y":-1.64},{"x":550,"y":-1.29},{"x":560,"y":-1.45},{"x":570,"y":-0.71},{"x":580,"y":-1.26},{"x":590,"y":-0.62},{"x":600,"y":-0.53},{"x":610,"y":-0.59},{"x":620,"y":0.11},{"x":630,"y":-0.5},{"x":640,"y":0.0},{"x":650,"y":-0.11},{"x":660,"y":0.53},{"x":670,"y":0.67},{"x":680,"y":0.31},{"x":690,"y":1.06},{"x":700,"y":0.65},{"x":710,"y":1.14},{"x":720,"y":1.3},{"x":730,"y":1.63},{"x":740,"y":1.62},{"x":745,"y":1.9},{"x":749,"y":1.05},{"x":751,"y":-1.6},{"x":755,"y":-2.3},{"x":760,"y":-1.81},{"x":770,"y":-1.45},{"x":780,"y":-1.79},{"x":790,"y":-0.84},{"x":800,"y":-1.33},{"x":810,"y":-0.72},{"x":820,"y":-0.92},{"x":830,"y":-0.31},{"x":840,"y":-0.8},{"x":850,"y":-0.25},{"x":860,"y":-0.59},{"x":870,"y":0.22},{"x":880,"y":-0.03},{"x":890,"y":0.43},{"x":900,"y":0.19},{"x":910,"y":0.99},{"x":920,"y":0.45},{"x":930,"y":1.01},{"x":940,"y":0.86},{"x":950,"y":1.72},{"x":960,"y":1.23},{"x":970,"y":1.73},{"x":980,"y":1.34},{"x":990,"y":1.9},{"x":995,"y":2.2},{"x":999,"y":1.85},{"x":1001,"y":-1.85},{"x":1005,"y":-2.4},{"x":1010,"y":-1.46},{"x":1020,"y":-1.81},{"x":1030,"y":-1.11},{"x":1040,"y":-1.36},{"x":1050,"y":-0.56},{"x":1060,"y":-1.31},{"x":1070,"y":-0.76},{"x":1080,"y":-0.31},{"x":1090,"y":-0.66},{"x":1100,"y":-0.15},{"x":1110,"y":-0.6},{"x":1120,"y":0.35},{"x":1130,"y":0.05},{"x":1140,"y":0.55},{"x":1150,"y":0.15},{"x":1160,"y":0.7},{"x":1170,"y":1.2},{"x":1180,"y":0.65},{"x":1190,"y":1.1},{"x":1200,"y":1.1},
{"x":15,"y":-1.83},{"x":25,"y":-1.11},{"x":35,"y":-1.11},{"x":45,"y":-0.48},{"x":55,"y":-0.85},{"x":65,"y":-0.41},{"x":75,"y":-0.94},{"x":85,"y":-0.46},{"x":95,"y":-0.18},{"x":105,"y":0.24},{"x":115,"y":-0.14},{"x":125,"y":0.69},{"x":135,"y":0.2},{"x":145,"y":0.76},{"x":155,"y":0.42},{"x":165,"y":0.71},{"x":175,"y":0.55},{"x":185,"y":1.38},{"x":195,"y":1.16},{"x":205,"y":1.61},{"x":215,"y":1.25},{"x":225,"y":1.64},{"x":235,"y":1.77},{"x":255,"y":-1.19},{"x":265,"y":-1.45},{"x":275,"y":-0.74},{"x":285,"y":-0.96},{"x":295,"y":-0.64},{"x":305,"y":-1.17},{"x":315,"y":-0.59},{"x":325,"y":-0.58},{"x":335,"y":0.06},{"x":345,"y":-0.29},{"x":355,"y":0.14},{"x":365,"y":-0.35},{"x":375,"y":0.42},{"x":385,"y":-0.12},{"x":395,"y":0.24},{"x":405,"y":0.13},{"x":415,"y":0.94},{"x":425,"y":0.67},{"x":435,"y":0.98},{"x":445,"y":1.04},{"x":455,"y":1.38},{"x":465,"y":0.99},{"x":475,"y":1.51},{"x":485,"y":1.14},{"x":505,"y":-1.25},{"x":515,"y":-1.67},{"x":535,"y":-1.35},{"x":545,"y":-1.7},{"x":555,"y":-1.1},{"x":565,"y":-1.13},{"x":575,"y":-0.63},{"x":585,"y":-1.12},{"x":595,"y":-0.44},{"x":605,"y":-0.83},{"x":615,"y":-0.19},{"x":625,"y":-0.56},{"x":635,"y":-0.02},{"x":645,"y":-0.15},{"x":655,"y":0.48},{"x":665,"y":0.46},{"x":675,"y":0.67},{"x":685,"y":0.46},{"x":695,"y":1.13},{"x":705,"y":0.76},{"x":715,"y":1.4},{"x":725,"y":1.24},{"x":735,"y":1.9},{"x":765,"y":-1.9},{"x":775,"y":-1.39},{"x":785,"y":-1.41},{"x":795,"y":-0.77},{"x":805,"y":-1.17},{"x":815,"y":-0.64},{"x":825,"y":-0.94},{"x":835,"y":-0.47},{"x":845,"y":-0.76},{"x":855,"y":-0.15},{"x":865,"y":-0.24},{"x":875,"y":0.46},{"x":885,"y":0.02},{"x":895,"y":0.45},{"x":905,"y":0.32},{"x":915,"y":0.77},{"x":925,"y":0.37},{"x":935,"y":1.17},{"x":945,"y":1.2},{"x":955,"y":1.75},{"x":965,"y":1.34},{"x":975,"y":1.72},{"x":985,"y":1.39},{"x":1015,"y":-1.41},{"x":1025,"y":-1.73},{"x":1035,"y":-1.06},{"x":1045,"y":-1.28},{"x":1055,"y":-0.85},{"x":1065,"y":-1.09},{"x":1075,"y":-0.4},{"x":1085,"y":-0.72},{"x":1095,"y":-0.14},{"x":1105,"y":-0.56},{"x":1115,"y":0.23},{"x":1125,"y":-0.07},{"x":1135,"y":0.48},{"x":1145,"y":0.21},{"x":1155,"y":0.75},{"x":1165,"y":0.9},{"x":1175,"y":0.7},{"x":1185,"y":1.06},{"x":1195,"y":0.96}],
"f_o": [{"x":0,"y":-0.1},{"x":25,"y":-0.3},{"x":50,"y":-0.54},{"x":75,"y":-0.78},{"x":100,"y":-0.99},{"x":125,"y":-1.16},{"x":150,"y":-1.29},{"x":175,"y":-1.36},{"x":200,"y":-1.38},{"x":225,"y":-1.34},{"x":250,"y":-1.25},{"x":275,"y":-1.12},{"x":300,"y":-0.93},{"x":325,"y":-0.71},{"x":350,"y":-0.46},{"x":375,"y":-0.19},{"x":400,"y":0.08},{"x":425,"y":0.35},{"x":450,"y":0.61},{"x":475,"y":0.84},{"x":500,"y":1.04},{"x":525,"y":1.2},{"x":550,"y":1.31},{"x":575,"y":1.37},{"x":600,"y":1.39},{"x":625,"y":1.32},{"x":650,"y":1.22},{"x":675,"y":1.07},{"x":700,"y":0.87},{"x":725,"y":0.64},{"x":750,"y":0.39},{"x":775,"y":0.11},{"x":800,"y":-0.16},{"x":825,"y":-0.43},{"x":850,"y":-0.68},{"x":875,"y":-0.91},{"x":900,"y":-1.1},{"x":925,"y":-1.26},{"x":950,"y":-1.37},{"x":975,"y":-1.43},{"x":1000,"y":-1.5},{"x":1025,"y":-1.35},{"x":1050,"y":-1.2},{"x":1075,"y":-1.01},{"x":1100,"y":-0.8},{"x":1125,"y":-0.55},{"x":1150,"y":-0.28},{"x":1175,"y":0.05},{"x":1200,"y":0.4}]
},
"concat": [
 {"width": 554, "height": 75, "title": "(a) Observations (mixed signal)",
  "encoding": {"x": {"field": "x", "type": "quantitative", "title": null, "scale": {"domain": [-60, 1260], "nice": false, "zero": false}, "axis": {"values": [0,200,400,600,800,1000,1200], "format": "d", "labelFont": "Liberation Serif", "labelFontSize": 14}},
               "y": {"field": "y", "type": "quantitative", "title": null, "scale": {"domain": [-14.1, 15.9], "nice": false, "zero": false}, "axis": {"values": [-10,0,10], "format": "d", "labelFont": "Liberation Serif", "labelFontSize": 14}}},
  "layer": [
   {"data": {"name": "a_r"}, "mark": {"type": "line", "color": "#ff0000", "strokeWidth": 2.8}},
   {"data": {"name": "a_b"}, "mark": {"type": "line", "color": "#4682b4", "strokeWidth": 2.8}},
   {"data": {"name": "a_o"}, "mark": {"type": "line", "color": "#ffa500", "strokeWidth": 2.8}}
  ]},
 {"width": 554, "height": 75, "title": "(b) True sources",
  "encoding": {"x": {"field": "x", "type": "quantitative", "title": null, "scale": {"domain": [-60, 1260], "nice": false, "zero": false}, "axis": {"values": [0,200,400,600,800,1000,1200], "format": "d", "labelFont": "Liberation Serif", "labelFontSize": 14}},
               "y": {"field": "y", "type": "quantitative", "title": null, "scale": {"domain": [-6.85, 7.05], "nice": false, "zero": false}, "axis": {"values": [-5,0,5], "format": "d", "labelFont": "Liberation Serif", "labelFontSize": 14}}},
  "layer": [
   {"data": {"name": "b_r"}, "mark": {"type": "line", "color": "#ff0000", "strokeWidth": 2.8}},
   {"data": {"name": "b_b"}, "mark": {"type": "line", "color": "#4682b4", "strokeWidth": 2.8}},
   {"data": {"name": "b_o"}, "mark": {"type": "line", "color": "#ffa500", "strokeWidth": 2.8}}
  ]},
 {"width": 554, "height": 75, "title": "(c) Linear PCA recovered signals",
  "encoding": {"x": {"field": "x", "type": "quantitative", "title": null, "scale": {"domain": [-60, 1260], "nice": false, "zero": false}, "axis": {"values": [0,200,400,600,800,1000,1200], "format": "d", "labelFont": "Liberation Serif", "labelFontSize": 14}},
               "y": {"field": "y", "type": "quantitative", "title": null, "scale": {"domain": [-2.48, 2.69], "nice": false, "zero": false}, "axis": {"values": [0,2.5], "format": ".1f", "labelFont": "Liberation Serif", "labelFontSize": 14}}},
  "layer": [
   {"data": {"name": "c_r"}, "mark": {"type": "line", "color": "#ff0000", "strokeWidth": 2.6}},
   {"data": {"name": "c_b"}, "mark": {"type": "line", "color": "#4682b4", "strokeWidth": 2.6}},
   {"data": {"name": "c_o"}, "mark": {"type": "line", "color": "#ffa500", "strokeWidth": 1.9}}
  ]},
 {"width": 554, "height": 75, "title": "(d) Nonlinear PCA recovered signals",
  "encoding": {"x": {"field": "x", "type": "quantitative", "title": null, "scale": {"domain": [-60, 1260], "nice": false, "zero": false}, "axis": {"values": [0,200,400,600,800,1000,1200], "format": "d", "labelFont": "Liberation Serif", "labelFontSize": 14}},
               "y": {"field": "y", "type": "quantitative", "title": null, "scale": {"domain": [-2.8, 2.52], "nice": false, "zero": false}, "axis": {"values": [-2.5,0,2.5], "format": ".1f", "labelFont": "Liberation Serif", "labelFontSize": 14}}},
  "layer": [
   {"data": {"name": "d_r"}, "mark": {"type": "line", "color": "#ff0000", "strokeWidth": 2.6}},
   {"data": {"name": "d_b"}, "mark": {"type": "line", "color": "#4682b4", "strokeWidth": 2.6}},
   {"data": {"name": "d_o"}, "mark": {"type": "line", "color": "#ffa500", "strokeWidth": 1.9}}
  ]},
 {"width": 554, "height": 75, "title": "(e) 2-layer nonlinear PCA recovered signals",
  "encoding": {"x": {"field": "x", "type": "quantitative", "title": null, "scale": {"domain": [-60, 1260], "nice": false, "zero": false}, "axis": {"values": [0,200,400,600,800,1000,1200], "format": "d", "labelFont": "Liberation Serif", "labelFontSize": 14}},
               "y": {"field": "y", "type": "quantitative", "title": null, "scale": {"domain": [-2.98, 2.62], "nice": false, "zero": false}, "axis": {"values": [-2.5,0,2.5], "format": ".1f", "labelFont": "Liberation Serif", "labelFontSize": 14}}},
  "layer": [
   {"data": {"name": "e_r"}, "mark": {"type": "line", "color": "#ff0000", "strokeWidth": 2.6}},
   {"data": {"name": "e_b"}, "mark": {"type": "line", "color": "#4682b4", "strokeWidth": 2.6}},
   {"data": {"name": "e_o"}, "mark": {"type": "line", "color": "#ffa500", "strokeWidth": 1.9}}
  ]},
 {"width": 554, "height": 75, "title": "(f) FastICA recovered signals",
  "encoding": {"x": {"field": "x", "type": "quantitative", "title": null, "scale": {"domain": [-60, 1260], "nice": false, "zero": false}, "axis": {"values": [0,200,400,600,800,1000,1200], "format": "d", "labelFont": "Liberation Serif", "labelFontSize": 14}},
               "y": {"field": "y", "type": "quantitative", "title": null, "scale": {"domain": [-2.6, 2.8], "nice": false, "zero": false}, "axis": {"values": [-2.5,0,2.5], "format": ".1f", "labelFont": "Liberation Serif", "labelFontSize": 14}}},
  "layer": [
   {"data": {"name": "f_r"}, "mark": {"type": "line", "color": "#ff0000", "strokeWidth": 2.6}},
   {"data": {"name": "f_b"}, "mark": {"type": "line", "color": "#4682b4", "strokeWidth": 1.9}},
   {"data": {"name": "f_o"}, "mark": {"type": "line", "color": "#ffa500", "strokeWidth": 2.6}}
  ]}
]
}
